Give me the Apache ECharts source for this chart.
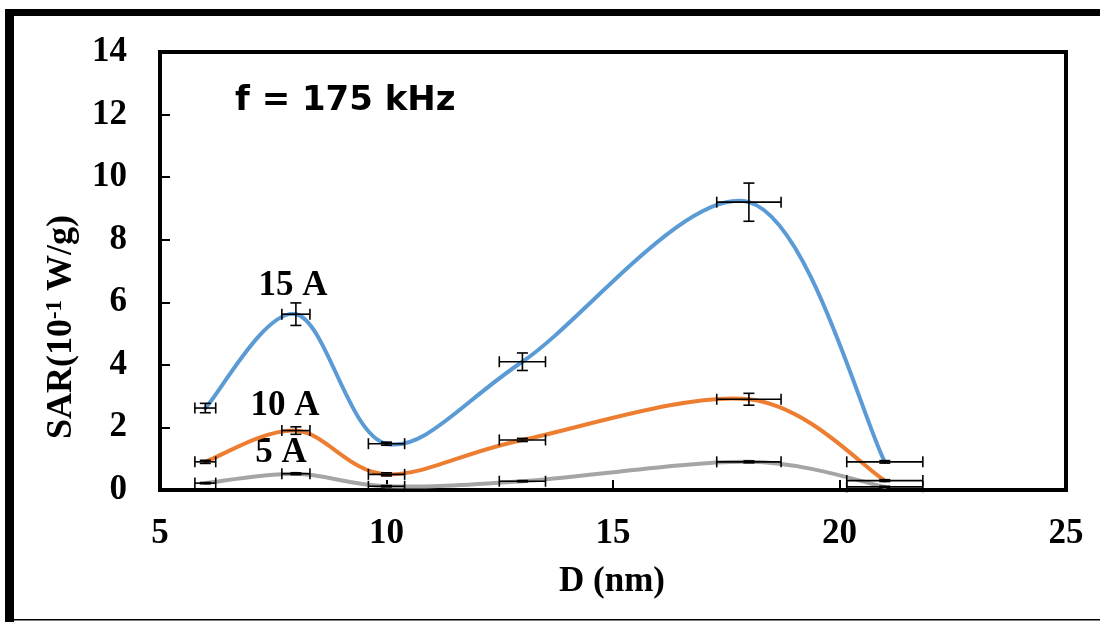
<!DOCTYPE html>
<html>
<head>
<meta charset="utf-8">
<script src="https://cdn.jsdelivr.net/npm/echarts@6/dist/echarts.min.js"></script>
<style>
html,body{margin:0;padding:0;background:#fff;}
#chart{width:1100px;height:622px;}
</style>
</head>
<body>
<div id="chart"></div>
<script>
// ---- data ----
const diameters = [6, 8, 10, 13, 18, 21];
const xErr = [0.23, 0.31, 0.4, 0.51, 0.71, 0.84];
const sar15 = [2.62, 5.62, 1.48, 4.1, 9.2, 0.9];
const sar15Err = [0.15, 0.36, 0.05, 0.28, 0.61, 0.04];
const sar10 = [0.9, 1.9, 0.5, 1.6, 2.9, 0.3];
const sar10Err = [0.05, 0.12, 0.05, 0.05, 0.19, 0.03];
const sar5 = [0.22, 0.52, 0.12, 0.28, 0.9, 0.1];
const sar5Err = [0.02, 0.03, 0.02, 0.02, 0.03, 0.02];
const seriesNames = ['15 A', '10 A', '5 A'];
const seriesColors = ['#5B9BD5', '#ED7D31', '#A5A5A5'];
const xTicks = [5, 10, 15, 20, 25];
const yTicks = [0, 2, 4, 6, 8, 10, 12, 14];
const annotation = 'f = 175 kHz';

const chart = echarts.init(document.getElementById('chart'));
const serif = '"Liberation Serif", "Times New Roman", serif';

const allY = [sar15, sar10, sar5];
const allYErr = [sar15Err, sar10Err, sar5Err];

function pairs(ys) { return diameters.map((d, i) => [d, ys[i]]); }

// Excel-style smoothed line (Catmull-Rom Bezier, drawn in pixel space via axis scales)
function makeSmoothSeries(ys, color, name) {
  return {
    name: name,
    type: 'custom',
    data: pairs(ys),
    z: 2,
    silent: true,
    clip: false,
    renderItem: function (params, api) {
      const i = params.dataIndex;
      const n = diameters.length;
      if (i >= n - 1) return null;
      const P = j => api.coord([diameters[Math.max(0, Math.min(n - 1, j))], ys[Math.max(0, Math.min(n - 1, j))]]);
      const p0 = P(i - 1), p1 = P(i), p2 = P(i + 1), p3 = P(i + 2);
      const k = 1 / 6;
      return {
        type: 'bezierCurve',
        shape: {
          x1: p1[0], y1: p1[1], x2: p2[0], y2: p2[1],
          cpx1: p1[0] + (p2[0] - p0[0]) * k, cpy1: p1[1] + (p2[1] - p0[1]) * k,
          cpx2: p2[0] - (p3[0] - p1[0]) * k, cpy2: p2[1] - (p3[1] - p1[1]) * k
        },
        style: { stroke: color, lineWidth: 4, fill: null, lineCap: 'round' }
      };
    }
  };
}

const lineSeries = allY.map((ys, k) => makeSmoothSeries(ys, seriesColors[k], seriesNames[k]));

const errData = [];
allY.forEach((ys, k) => {
  ys.forEach((y, i) => errData.push([diameters[i], y, xErr[i], allYErr[k][i]]));
});

const CAP = 5.5;
const errSeries = {
  type: 'custom',
  data: errData,
  z: 5,
  silent: true,
  renderItem: function (params, api) {
    const x = api.value(0), y = api.value(1), ex = api.value(2), ey = api.value(3);
    const c = api.coord([x, y]);
    const l = api.coord([x - ex, y]);
    const r = api.coord([x + ex, y]);
    const t = api.coord([x, y + ey]);
    const b = api.coord([x, y - ey]);
    const st = { stroke: '#000', lineWidth: 1.6 };
    return {
      type: 'group',
      children: [
        { type: 'line', shape: { x1: l[0], y1: c[1], x2: r[0], y2: c[1] }, style: st },
        { type: 'line', shape: { x1: l[0], y1: c[1] - CAP, x2: l[0], y2: c[1] + CAP }, style: st },
        { type: 'line', shape: { x1: r[0], y1: c[1] - CAP, x2: r[0], y2: c[1] + CAP }, style: st },
        { type: 'line', shape: { x1: c[0], y1: t[1], x2: c[0], y2: b[1] }, style: st },
        { type: 'line', shape: { x1: c[0] - CAP, y1: t[1], x2: c[0] + CAP, y2: t[1] }, style: st },
        { type: 'line', shape: { x1: c[0] - CAP, y1: b[1], x2: c[0] + CAP, y2: b[1] }, style: st }
      ]
    };
  }
};

const labelFont = { fontFamily: serif, fontWeight: 'bold', fontSize: 35, fill: '#000' };

const option = {
  animation: false,
  backgroundColor: '#fff',
  grid: {
    left: 160, right: 34, top: 52, bottom: 132,
    show: true, borderColor: '#000', borderWidth: 4, backgroundColor: 'transparent'
  },
  xAxis: {
    type: 'value', min: xTicks[0], max: xTicks[xTicks.length - 1], interval: 5,
    axisLine: { show: false },
    axisTick: { show: true, inside: true, length: 10, lineStyle: { color: '#000', width: 2 } },
    splitLine: { show: false },
    axisLabel: { color: '#000', fontFamily: serif, fontWeight: 'bold', fontSize: 35, margin: 26 }
  },
  yAxis: {
    type: 'value', min: yTicks[0], max: yTicks[yTicks.length - 1], interval: 2,
    axisLine: { show: false },
    axisTick: { show: true, inside: true, length: 10, lineStyle: { color: '#000', width: 2 } },
    splitLine: { show: false },
    axisLabel: { color: '#000', fontFamily: serif, fontWeight: 'bold', fontSize: 35, margin: 33 }
  },
  series: lineSeries.concat([errSeries]),
  graphic: [
    // outer frame lines
    { type: 'rect', shape: { x: 5, y: 9, width: 1095, height: 7 }, style: { fill: '#000' }, silent: true },
    { type: 'rect', shape: { x: 5, y: 9, width: 9, height: 613 }, style: { fill: '#000' }, silent: true },
    { type: 'rect', shape: { x: 14, y: 619, width: 1086, height: 1.5 }, style: { fill: '#000' }, silent: true },
    // annotation
    { type: 'text', left: 235, top: 84, style: { text: annotation, font: 'bold 34px "DejaVu Sans", sans-serif', fill: '#000' } },
    // series labels
    { type: 'text', x: 293, y: 286, style: Object.assign({ text: seriesNames[0], align: 'center', verticalAlign: 'middle' }, labelFont) },
    { type: 'text', x: 285, y: 406, style: Object.assign({ text: seriesNames[1], align: 'center', verticalAlign: 'middle' }, labelFont) },
    { type: 'text', x: 281, y: 453, style: Object.assign({ text: seriesNames[2], align: 'center', verticalAlign: 'middle' }, labelFont) },
    // y axis title
    {
      type: 'text', x: 62, y: 327, rotation: Math.PI / 2,
      style: {
        text: '{b|SAR(10}{s|-1}{b| W/g)}',
        align: 'center', verticalAlign: 'middle',
        rich: {
          b: { fontFamily: serif, fontWeight: 'bold', fontSize: 36, fill: '#000', color: '#000' },
          s: { fontFamily: serif, fontWeight: 'bold', fontSize: 23, fill: '#000', color: '#000', verticalAlign: 'top', padding: [0, 0, 14, 0] }
        }
      }
    },
    // x axis title
    { type: 'text', x: 612, y: 582, style: Object.assign({ text: 'D (nm)', align: 'center', verticalAlign: 'middle' }, labelFont) }
  ]
};
chart.setOption(option);
</script>
</body>
</html>
